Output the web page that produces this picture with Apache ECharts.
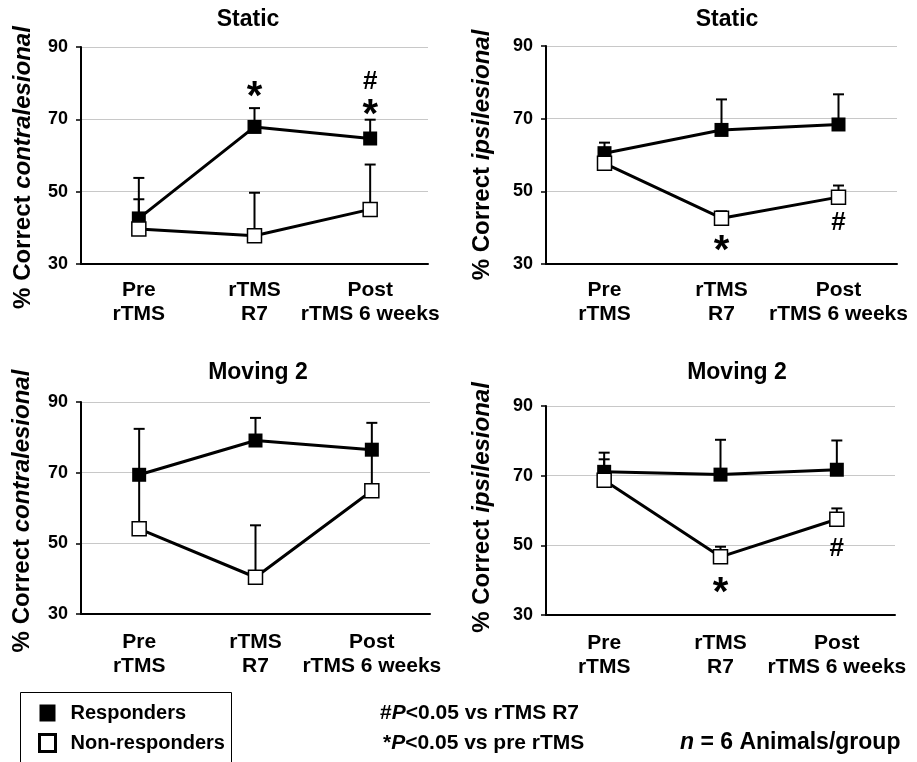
<!DOCTYPE html>
<html>
<head>
<meta charset="utf-8">
<script src="https://cdn.jsdelivr.net/npm/echarts@6/dist/echarts.min.js"></script>
<style>
html,body{margin:0;padding:0;background:#fff;}
#chart{width:917px;height:762px;}
</style>
</head>
<body>
<div id="chart"></div>
<script>
// ---------- data ----------
const categories = ['Pre\nrTMS', 'rTMS\nR7', 'Post\nrTMS 6 weeks'];
const yTicks = [30, 50, 70, 90];
const panelTitles = ['Static', 'Static', 'Moving 2', 'Moving 2'];
const yNameSide = ['contralesional', 'ipsilesional', 'contralesional', 'ipsilesional'];

// Panel 1: Static, contralesional
const p1Resp = [42.6, 67.9, 64.7];
const p1RespErr = [53.8, 73.1, 69.9];
const p1Non = [39.7, 37.8, 45.1];
const p1NonErr = [47.9, 49.7, 57.5];
const p1Marks = [[1, 78.3, '*'], [2, 80.4, '#'], [2, 73.5, '*']];

// Panel 2: Static, ipsilesional
const p2Resp = [60.5, 66.9, 68.4];
const p2RespErr = [63.4, 75.3, 76.7];
const p2Non = [57.7, 42.6, 48.4];
const p2NonErr = [59.0, 44.5, 51.6];
const p2Marks = [[1, 35.9, '*'], [2, 41.3, '#']];

// Panel 3: Moving 2, contralesional
const p3Resp = [69.4, 79.1, 76.5];
const p3RespErr = [82.4, 85.5, 84.1];
const p3Non = [54.1, 40.4, 64.9];
const p3NonErr = [69.0, 55.1, 76.0];
const p3Marks = [];

// Panel 4: Moving 2, ipsilesional
const p4Resp = [71.1, 70.3, 71.7];
const p4RespErr = [76.6, 80.3, 80.1];
const p4Non = [68.7, 46.7, 57.5];
const p4NonErr = [74.7, 49.6, 60.6];
const p4Marks = [[1, 38.6, '*'], [2, 49.1, '#']];

const panels = [
  {resp: p1Resp, respErr: p1RespErr, non: p1Non, nonErr: p1NonErr, marks: p1Marks},
  {resp: p2Resp, respErr: p2RespErr, non: p2Non, nonErr: p2NonErr, marks: p2Marks},
  {resp: p3Resp, respErr: p3RespErr, non: p3Non, nonErr: p3NonErr, marks: p3Marks},
  {resp: p4Resp, respErr: p4RespErr, non: p4Non, nonErr: p4NonErr, marks: p4Marks}
];

// ---------- layout / style ----------
const FONT = "'Liberation Sans', Arial, Helvetica, sans-serif";
const grids = [
  {left: 81, top: 47, width: 347, height: 217},
  {left: 546, top: 46, width: 351, height: 218},
  {left: 81, top: 402, width: 349, height: 212},
  {left: 546, top: 406, width: 349, height: 209}
];
const nameGaps = [46, 52, 47, 52];
const namePads = [[0, 24, 0, 0], [0, 0, 0, 0], [0, 6, 0, 0], [0, 0, 0, 6]];
const labelMargins = [14, 14, 16, 16];
const titlePos = [[248, 20], [727, 20], [258, 373], [737, 373]];

const xAxes = [], yAxes = [], series = [];
grids.forEach((g, i) => {
  xAxes.push({
    type: 'category', gridIndex: i, data: categories, boundaryGap: true,
    axisLine: {lineStyle: {color: '#000', width: 2}},
    axisTick: {show: false},
    axisLabel: {color: '#000', fontFamily: FONT, fontWeight: 'bold', fontSize: 21, lineHeight: 24, margin: labelMargins[i], interval: 0}
  });
  yAxes.push({
    type: 'value', gridIndex: i, min: yTicks[0], max: yTicks[yTicks.length - 1], interval: 20,
    axisLine: {show: true, lineStyle: {color: '#000', width: 2}},
    axisTick: {show: true, length: 5, lineStyle: {color: '#000', width: 1.5}},
    axisLabel: {color: '#000', fontFamily: FONT, fontWeight: 'bold', fontSize: 18, margin: 13},
    splitLine: {show: true, lineStyle: {color: '#c8c8c8', width: 1}},
    name: '{a|% Correct }{b|' + yNameSide[i] + '}',
    nameLocation: 'middle', nameRotate: 90, nameGap: nameGaps[i],
    nameTextStyle: {
      padding: namePads[i],
      rich: {
        a: {fontFamily: FONT, fontWeight: 'bold', fontSize: 24, color: '#000'},
        b: {fontFamily: FONT, fontWeight: 'bold', fontStyle: 'italic', fontSize: 24, color: '#000'}
      }
    }
  });
});

function errorSeries(i, means, tops) {
  return {
    type: 'custom', xAxisIndex: i, yAxisIndex: i, z: 1, silent: true,
    data: means.map((m, k) => [k, m, tops[k]]),
    encode: {x: 0, y: [1, 2]},
    renderItem: function (params, api) {
      const x = api.value(0);
      const p0 = api.coord([x, api.value(1)]);
      const p1 = api.coord([x, api.value(2)]);
      const hw = 5.5;
      return {
        type: 'group',
        children: [
          {type: 'line', shape: {x1: p0[0], y1: p0[1], x2: p1[0], y2: p1[1]}, style: {stroke: '#000', lineWidth: 2}},
          {type: 'line', shape: {x1: p1[0] - hw, y1: p1[1], x2: p1[0] + hw, y2: p1[1]}, style: {stroke: '#000', lineWidth: 2}}
        ]
      };
    }
  };
}

panels.forEach((p, i) => {
  series.push(errorSeries(i, p.resp, p.respErr));
  series.push(errorSeries(i, p.non, p.nonErr));
  series.push({
    name: 'Responders', type: 'line', xAxisIndex: i, yAxisIndex: i, z: 3,
    data: p.resp, symbol: 'rect', symbolSize: 14, showSymbol: true,
    lineStyle: {color: '#000', width: 3},
    itemStyle: {color: '#000', borderColor: '#000', borderWidth: 0},
    emphasis: {disabled: true}
  });
  series.push({
    name: 'Non-responders', type: 'line', xAxisIndex: i, yAxisIndex: i, z: 4,
    data: p.non, symbol: 'rect', symbolSize: 14, showSymbol: true,
    lineStyle: {color: '#000', width: 3},
    itemStyle: {color: '#fff', borderColor: '#000', borderWidth: 1.5},
    emphasis: {disabled: true}
  });
  if (p.marks.length) {
    series.push({
      type: 'scatter', xAxisIndex: i, yAxisIndex: i, z: 5, silent: true,
      symbolSize: 1, itemStyle: {color: 'rgba(0,0,0,0)', opacity: 1},
      data: p.marks.map(m => ({
        value: [m[0], m[1]],
        label: {
          show: true, position: 'inside', formatter: m[2],
          fontFamily: FONT, fontWeight: 'bold', color: '#000', opacity: 1,
          fontSize: m[2] === '*' ? 40 : 26,
          offset: m[2] === '*' ? [0, 9] : [0, 0]
        }
      }))
    });
  }
});

const graphics = [];
titlePos.forEach((t, i) => {
  graphics.push({
    type: 'text', x: t[0], y: t[1],
    style: {text: panelTitles[i], fontFamily: FONT, fontWeight: 'bold', fontSize: 23, fill: '#000', align: 'center', verticalAlign: 'middle'}
  });
});
const noteRich = {
  n: {fontFamily: FONT, fontWeight: 'bold', fontSize: 21, fill: '#000'},
  it: {fontFamily: FONT, fontWeight: 'bold', fontStyle: 'italic', fontSize: 21, fill: '#000'},
  big: {fontFamily: FONT, fontWeight: 'bold', fontSize: 23, fill: '#000'},
  bigit: {fontFamily: FONT, fontWeight: 'bold', fontStyle: 'italic', fontSize: 23, fill: '#000'}
};
graphics.push({type: 'text', x: 380, y: 713, style: {text: '{n|#}{it|P}{n|<0.05 vs rTMS R7}', rich: noteRich, verticalAlign: 'middle'}});
graphics.push({type: 'text', x: 383, y: 743, style: {text: '{n|*}{it|P}{n|<0.05 vs pre rTMS}', rich: noteRich, verticalAlign: 'middle'}});
graphics.push({type: 'text', x: 680, y: 743, style: {text: '{bigit|n}{big| = 6 Animals/group}', rich: noteRich, verticalAlign: 'middle'}});
// legend frame (bottom edge runs off the page, as in the reference)
graphics.push({type: 'rect', shape: {x: 20.5, y: 692.5, width: 211, height: 100}, style: {fill: 'none', stroke: '#000', lineWidth: 1}});

const option = {
  animation: false,
  backgroundColor: '#fff',
  grid: grids,
  xAxis: xAxes,
  yAxis: yAxes,
  series: series,
  graphic: graphics,
  legend: {
    left: 38, top: 703, orient: 'vertical', selectedMode: false,
    padding: 0, height: 60,
    itemWidth: 16, itemHeight: 17, itemGap: 10,
    textStyle: {fontFamily: FONT, fontWeight: 'bold', fontSize: 20, color: '#000', lineHeight: 20, padding: [0, 0, 0, 10]},
    data: [
      {name: 'Responders', icon: 'rect', itemStyle: {color: '#000', borderWidth: 0}},
      {name: 'Non-responders', icon: 'rect', itemStyle: {color: '#fff', borderColor: '#000', borderWidth: 3}}
    ]
  }
};

const chart = echarts.init(document.getElementById('chart'), null, {renderer: 'canvas'});
chart.setOption(option);
</script>
</body>
</html>
